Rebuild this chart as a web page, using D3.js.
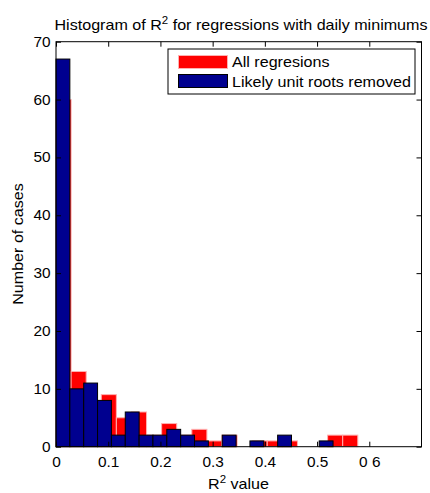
<!DOCTYPE html>
<html><head><meta charset="utf-8">
<script src="https://cdn.jsdelivr.net/npm/d3@7"></script>
<style>body{margin:0;background:#fff;} svg{display:block;} text{font-family:"Liberation Sans",Arial,sans-serif;fill:#000;}</style>
</head><body><div id="chart"></div>
<script>
// ---- data ----
const seriesNames = ["All regresions", "Likely unit roots removed"];
const redCounts  = [60,13,8,9,5,6,2,4,2,3,1,2,0,1,1,1,0,0,2,2];
const blueCounts = [67,10,11,8,2,6,2,2,3,2,1,0,2,0,1,0,2,0,0,1];
const redBinWidth = 0.0289;
const blueBinWidth = 0.02653;
const xTicks = [0,0.1,0.2,0.3,0.4,0.5,0.6];
const xTickLabels = ["0","0.1","0.2","0.3","0.4","0.5","0 6"];
const yTicks = [0,10,20,30,40,50,60,70];

const W = 430, H = 493;
const m = {left:56, right:421.5, top:41.7, bottom:446.7};
const SX = 1.15; // horizontal stretch of the reference lettering
const svg = d3.select("#chart").append("svg").attr("width",W).attr("height",H);

const x = d3.scaleLinear().domain([0,0.7]).range([m.left,m.right]);
const y = d3.scaleLinear().domain([0,70]).range([m.bottom,m.top]);

const redBins = redCounts.map((c,i)=>({x0:i*redBinWidth, x1:(i+1)*redBinWidth, c}));
const blueBins = blueCounts.map((c,i)=>({x0:i*blueBinWidth, x1:(i+1)*blueBinWidth, c}));

svg.append("g").selectAll("rect").data(redBins.filter(d=>d.c>0)).join("rect")
  .attr("x",d=>x(d.x0)).attr("width",d=>x(d.x1)-x(d.x0))
  .attr("y",d=>y(d.c)).attr("height",d=>y(0)-y(d.c))
  .attr("fill","#ff0000").attr("stroke","#ffb0b0").attr("stroke-width",1);

svg.append("g").selectAll("rect").data(blueBins.filter(d=>d.c>0)).join("rect")
  .attr("x",d=>x(d.x0)).attr("width",d=>x(d.x1)-x(d.x0))
  .attr("y",d=>y(d.c)).attr("height",d=>y(0)-y(d.c))
  .attr("fill","#00008f").attr("stroke","#000").attr("stroke-width",1);

// axes (ticks inward, on all four sides)
const tl = 5;
const fmtX = (d,i)=>xTickLabels[i];
svg.append("g").attr("transform",`translate(0,${m.bottom})`)
  .call(d3.axisBottom(x).tickValues(xTicks).tickFormat(fmtX).tickSizeInner(-tl).tickSizeOuter(0).tickPadding(10))
  .call(g=>g.select(".domain").remove());
svg.append("g").attr("transform",`translate(0,${m.top})`)
  .call(d3.axisTop(x).tickValues(xTicks).tickFormat("").tickSizeInner(-tl).tickSizeOuter(0))
  .call(g=>g.select(".domain").remove());
svg.append("g").attr("transform",`translate(${m.left},0)`)
  .call(d3.axisLeft(y).tickValues(yTicks).tickSizeInner(-tl).tickSizeOuter(0).tickPadding(5))
  .call(g=>g.select(".domain").remove());
svg.append("g").attr("transform",`translate(${m.right},0)`)
  .call(d3.axisRight(y).tickValues(yTicks).tickFormat("").tickSizeInner(-tl).tickSizeOuter(0))
  .call(g=>g.select(".domain").remove());
svg.selectAll(".tick text").attr("font-size",14).attr("font-family","Liberation Sans, Arial, sans-serif")
  .attr("fill","#000").attr("transform","scale(1.1,1)");
svg.selectAll(".tick line").attr("stroke","#000");

svg.append("rect").attr("x",m.left).attr("y",m.top).attr("width",m.right-m.left).attr("height",m.bottom-m.top)
  .attr("fill","none").attr("stroke","#000").attr("stroke-width",1);

function label(x0,y0,anchor,size,rot,sx){
  return svg.append("g").attr("transform",`translate(${x0},${y0})${rot?` rotate(${rot})`:""} scale(${sx||SX},1)`)
    .append("text").attr("text-anchor",anchor).attr("font-size",size);
}

// title
const t = label(241,30,"middle",14,0,1.15);
t.append("tspan").text("Histogram of R");
t.append("tspan").attr("dy",-6).attr("font-size",10).text("2");
t.append("tspan").attr("dy",6).text(" for regressions with daily minimums");

// x label
const xl = label(238.5,489,"middle",14);
xl.append("tspan").text("R");
xl.append("tspan").attr("dy",-6).attr("font-size",10).text("2");
xl.append("tspan").attr("dy",6).text(" value");

// y label
label(23,244,"middle",14,-90).text("Number of cases");

// legend
const lg = svg.append("g");
lg.append("rect").attr("x",168).attr("y",49).attr("width",247).attr("height",45).attr("fill","#fff").attr("stroke","#000");
lg.append("rect").attr("x",178.5).attr("y",55.5).attr("width",49).attr("height",13).attr("fill","#ff0000").attr("stroke","#ffb0b0");
lg.append("rect").attr("x",178.5).attr("y",74.5).attr("width",49).attr("height",13).attr("fill","#00008f").attr("stroke","#000");
label(232,67,"start",14).text(seriesNames[0]);
label(232,86.5,"start",14).text(seriesNames[1]);
</script></body></html>
